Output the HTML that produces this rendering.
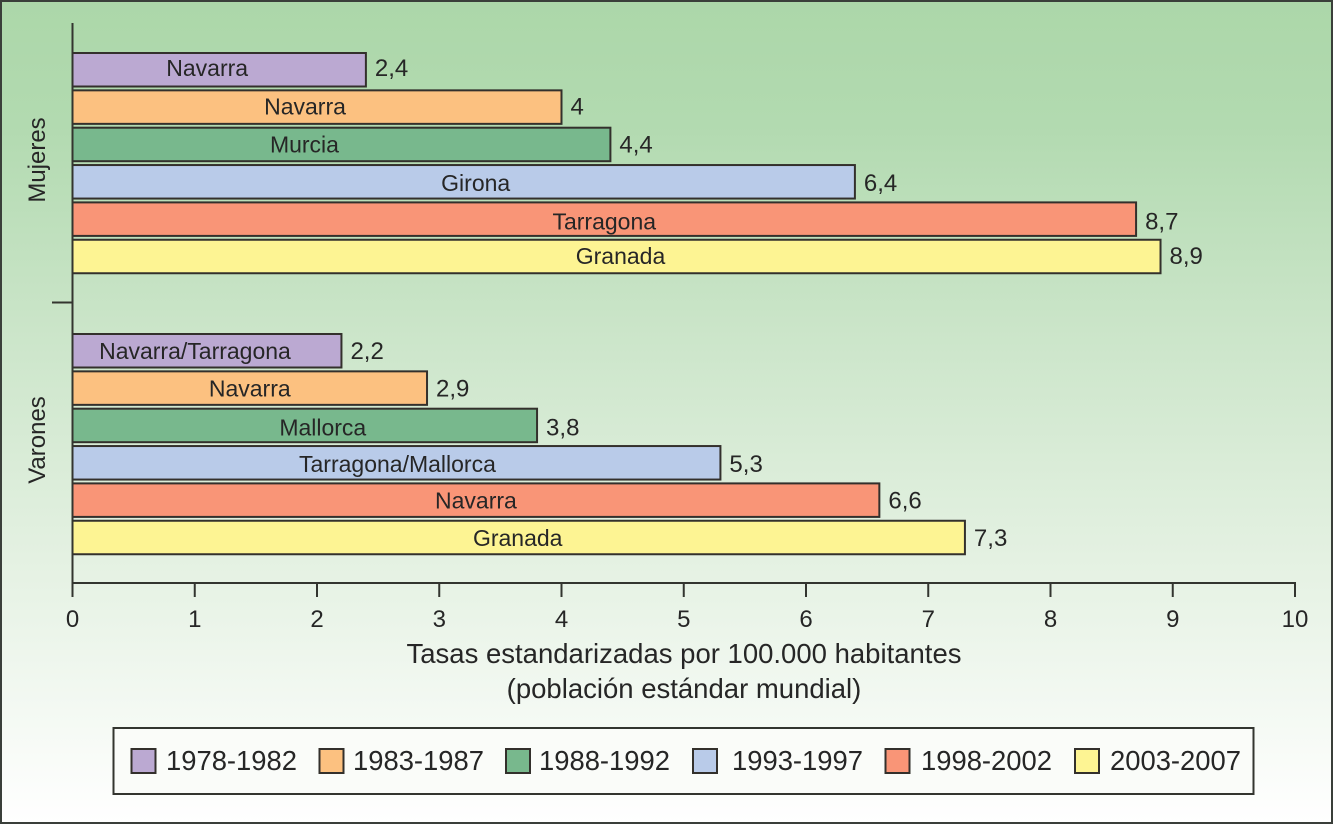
<!DOCTYPE html>
<html lang="es">
<head>
<meta charset="utf-8">
<title>Tasas estandarizadas</title>
<style>
html,body{margin:0;padding:0;width:1333px;height:824px;overflow:hidden;background:#fff}
svg{display:block}
text{font-family:"Liberation Sans",sans-serif;fill:#262626}
</style>
</head>
<body>
<svg id="chart" xmlns="http://www.w3.org/2000/svg" width="1333" height="824" viewBox="0 0 1333 824">
  <defs>
    <linearGradient id="bg" x1="0" y1="0" x2="0" y2="1">
      <stop offset="0" stop-color="#acd7a9"/>
      <stop offset="0.15" stop-color="#b2dab0"/>
      <stop offset="0.4" stop-color="#cbe5c9"/>
      <stop offset="0.7" stop-color="#e6f2e4"/>
      <stop offset="1" stop-color="#ffffff"/>
    </linearGradient>
  </defs>
  <rect x="1" y="1" width="1331" height="822" fill="url(#bg)" stroke="#3a3f3a" stroke-width="2"/>
  <g id="marks"></g>
  <g id="axes"></g>
  <g id="legend"></g>
</svg>
<script>
const periods = ['1978-1982','1983-1987','1988-1992','1993-1997','1998-2002','2003-2007'];
const mujeresValues = [2.4,4,4.4,6.4,8.7,8.9];
const mujeresPlaces = ['Navarra','Navarra','Murcia','Girona','Tarragona','Granada'];
const varonesValues = [2.2,2.9,3.8,5.3,6.6,7.3];
const varonesPlaces = ['Navarra/Tarragona','Navarra','Mallorca','Tarragona/Mallorca','Navarra','Granada'];
const xTicks = [0,1,2,3,4,5,6,7,8,9,10];

const periodColors = ['#bba9d2','#fcc180','#78b88d','#b9cbe9','#f99577','#fdf493'];
const mujeresLabelNudge = [-12,-12,-37,12,0,4];
const varonesLabelNudge = [-12,0,18,1,0,-1];
const mujeresTextDy = [-1,0,1,2,3,0];
const varonesTextDy = [1,1,3,2,1,1];
const legendSwatchLeft = [131.5,319.5,506,693,885.5,1075];
const legendTextLeft = [166,353,539,732,921,1110];

const NS = 'http://www.w3.org/2000/svg';
const X0 = 72.5, X1 = 1295, AXIS_Y = 583;
const x = v => X0 + (v - xTicks[0]) / (xTicks[xTicks.length-1] - xTicks[0]) * (X1 - X0);
const bandY = (start, i) => start + i * 37.35;
const fmt = v => String(v).replace('.', ',');

function mk(tag, attrs, parent, txt){
  const el = document.createElementNS(NS, tag);
  for (const k in attrs) el.setAttribute(k, attrs[k]);
  if (txt !== undefined) el.textContent = txt;
  parent.appendChild(el);
  return el;
}

const marks = document.getElementById('marks');
const axes = document.getElementById('axes');
const legend = document.getElementById('legend');

function drawGroup(groupName, values, places, nudges, dys, startY){
  values.forEach((v, i) => {
    const y = bandY(startY, i);
    const bar = mk('rect', {x:X0, y:y, width:x(v)-X0, height:33.5, fill:periodColors[i], stroke:'#33302c', 'stroke-width':2}, marks);
    
    
    const label = mk('text', {x:(X0+x(v))/2 + nudges[i], y:y+24+dys[i], 'text-anchor':'middle', 'font-size':23}, marks, places[i]);
    
    
    const val = mk('text', {x:x(v)+9, y:y+24+dys[i], 'font-size':24}, marks, fmt(v));
    
    
  });
}
drawGroup('mujeres', mujeresValues, mujeresPlaces, mujeresLabelNudge, mujeresTextDy, 53);
drawGroup('varones', varonesValues, varonesPlaces, varonesLabelNudge, varonesTextDy, 334);

const yAxis = mk('line', {x1:X0, y1:23, x2:X0, y2:AXIS_Y, stroke:'#33352f', 'stroke-width':2}, axes);


const sep = mk('line', {x1:52, y1:302.5, x2:X0, y2:302.5, stroke:'#33352f', 'stroke-width':2}, axes);


const xAxis = mk('line', {x1:X0-1, y1:AXIS_Y, x2:X1+1, y2:AXIS_Y, stroke:'#33352f', 'stroke-width':2}, axes);



xTicks.forEach(t => {
  const tick = mk('line', {x1:x(t), y1:AXIS_Y, x2:x(t), y2:597, stroke:'#33352f', 'stroke-width':2}, axes);
  
  
  const lab = mk('text', {x:x(t), y:627, 'text-anchor':'middle', 'font-size':24}, axes, t);
  
  
});

const t1 = mk('text', {x:684, y:663, 'text-anchor':'middle', 'font-size':27.5}, axes, 'Tasas estandarizadas por 100.000 habitantes');


const t2 = mk('text', {x:684, y:698, 'text-anchor':'middle', 'font-size':27.5}, axes, '(población estándar mundial)');



const yM = mk('text', {transform:'translate(45,160) rotate(-90)', 'text-anchor':'middle', 'font-size':24}, axes, 'Mujeres');


const yV = mk('text', {transform:'translate(45,440) rotate(-90)', 'text-anchor':'middle', 'font-size':24}, axes, 'Varones');



const legendBox = mk('rect', {x:113.5, y:728, width:1140, height:66, fill:'#fafcf9', stroke:'#33352f', 'stroke-width':2}, legend);


periods.forEach((p, i) => {
  const sw = mk('rect', {x:legendSwatchLeft[i], y:749, width:24, height:24, fill:periodColors[i], stroke:'#33302c', 'stroke-width':2}, legend);
  
  
  const tx = mk('text', {x:legendTextLeft[i], y:770, 'font-size':27.4}, legend, p);
  
  
});
</script>
</body>
</html>
